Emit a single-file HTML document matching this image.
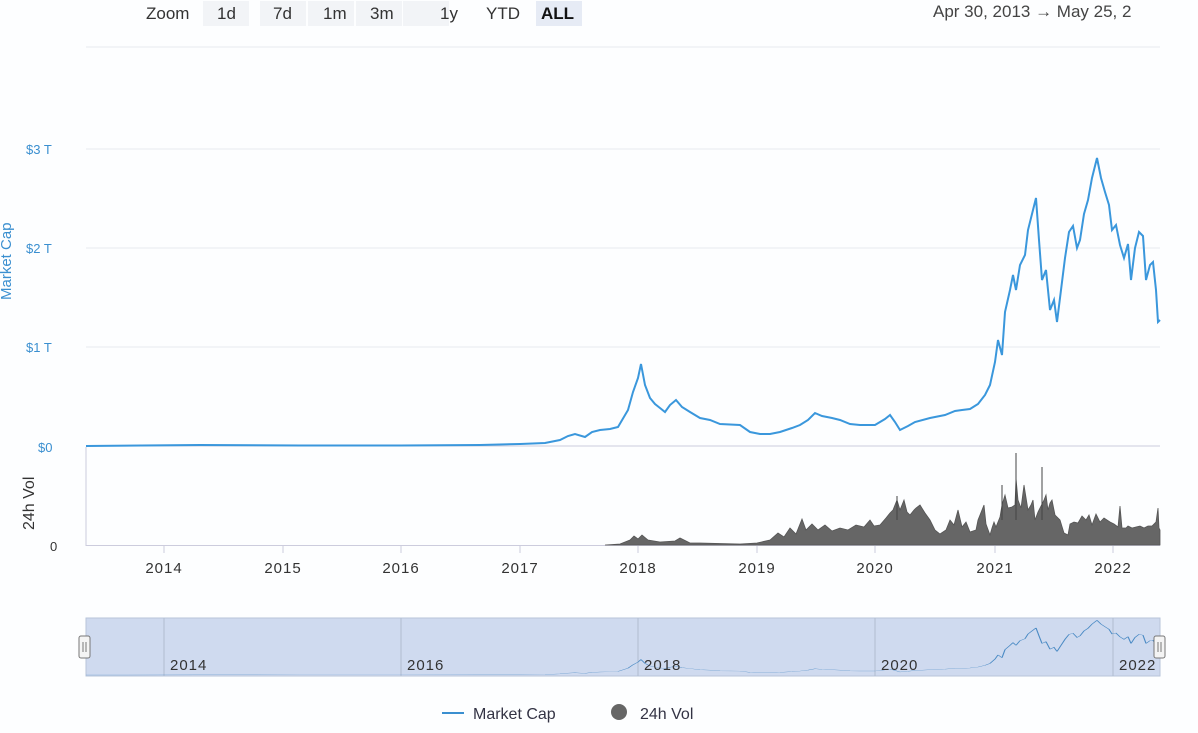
<!DOCTYPE html>
<html><head><meta charset="utf-8"><style>
body{margin:0;background:#fdfeff;width:1198px;height:728px;overflow:hidden;font-family:"Liberation Sans",sans-serif}
</style></head><body>
<svg width="1198" height="728" viewBox="0 0 1198 728" xmlns="http://www.w3.org/2000/svg" font-family="Liberation Sans, sans-serif">
<defs>
<polyline id="cap" fill="none" points="86,446 200,445 300,445.5 400,445.5 480,445 520,444 545,443 560,440 568,436 575,434 585,437 592,432 600,430 610,429 618,427 628,410 633,392 638,378 641,364 645,385 650,398 655,404 660,408 665,412 670,405 676,400 682,407 690,412 700,418 710,420 720,424 740,425 750,432 760,434 770,434 780,432 792,428 800,425 808,420 815,413 822,416 832,418 840,420 850,424 860,425 875,425 885,419 890,415 895,422 900,430 908,426 915,422 930,418 945,415 955,411 962,410 970,409 978,404 985,395 990,385 995,362 998,340 1002,355 1005,312 1010,290 1013,275 1016,290 1020,265 1025,255 1028,230 1033,210 1036,198 1039,240 1042,280 1046,270 1050,310 1054,300 1057,322 1061,290 1065,258 1069,232 1073,226 1077,248 1080,240 1084,214 1088,200 1092,178 1097,158 1101,178 1105,192 1109,205 1112,230 1116,225 1120,245 1124,258 1128,244 1131,280 1135,248 1139,232 1143,236 1146,280 1150,265 1153,262 1156,290 1158,322 1160,320"/>
</defs>
<!-- zoom buttons -->
<g font-size="17" fill="#333">
<text x="146" y="19">Zoom</text>
<rect x="203" y="1" width="46" height="25" fill="#f2f4f7"/><text x="217" y="19">1d</text>
<rect x="260" y="1" width="46" height="25" fill="#f2f4f7"/><text x="273" y="19">7d</text>
<rect x="308" y="1" width="46" height="25" fill="#f2f4f7"/><text x="323" y="19">1m</text>
<rect x="356" y="1" width="46" height="25" fill="#f2f4f7"/><text x="370" y="19">3m</text>
<rect x="403" y="1" width="46" height="25" fill="#f2f4f7"/><text x="440" y="19">1y</text>
<text x="486" y="19">YTD</text>
<rect x="536" y="1" width="46" height="25" fill="#e6ebf5"/><text x="541" y="19" font-weight="bold" fill="#111">ALL</text>
<text x="933" y="17" fill="#444">Apr 30, 2013  →  May 25, 2</text>
</g>
<!-- grid -->
<g stroke="#e6e9ef" stroke-width="1">
<line x1="86" y1="47" x2="1160" y2="47"/><line x1="86" y1="149" x2="1160" y2="149"/>
<line x1="86" y1="248" x2="1160" y2="248"/><line x1="86" y1="347" x2="1160" y2="347"/>
<line x1="86" y1="446" x2="1160" y2="446" stroke="#ccd"/>
</g>
<g font-size="13" fill="#3a8fd0"><text x="26" y="154">$3 T</text><text x="26" y="253">$2 T</text><text x="26" y="352">$1 T</text><text x="38" y="452">$0</text></g>
<text transform="translate(11,300) rotate(-90)" font-size="15" fill="#3a8fd0">Market Cap</text>
<text transform="translate(34,530) rotate(-90)" font-size="16" fill="#333">24h Vol</text>
<text x="50" y="551" font-size="13" fill="#333">0</text>
<line x1="86" y1="447" x2="86" y2="546" stroke="#ccd"/>
<line x1="86" y1="545.5" x2="1160" y2="545.5" stroke="#ccd"/>
<!-- volume -->
<polygon fill="#666" stroke="#555" stroke-width="0.8" points="605,545 620,544 630,540 634,536 638,539 642,535 648,540 660,542 675,541 680,538 690,543 700,543 740,544 757,543 770,540 778,533 784,537 790,528 796,534 802,519 806,530 812,524 818,530 825,525 832,531 840,528 848,530 856,525 864,527 870,520 874,526 880,525 886,518 890,513 893,510 897,500 900,510 902,505 904,500 907,512 910,515 914,510 916,508 920,505 925,513 930,520 935,530 940,534 946,530 950,520 954,525 958,510 962,527 966,522 970,532 976,530 978,520 980,515 984,505 986,524 990,535 992,528 994,522 996,527 1000,517 1002,505 1005,495 1008,508 1012,507 1015,505 1016,478 1018,500 1021,508 1024,485 1028,510 1031,505 1033,500 1035,520 1038,512 1040,508 1044,500 1046,495 1048,510 1050,503 1052,500 1055,515 1060,520 1064,533 1068,535 1070,524 1074,522 1078,523 1082,516 1086,520 1089,515 1092,525 1096,514 1100,522 1104,518 1110,522 1114,524 1118,527 1120,506 1122,528 1126,528 1128,526 1132,528 1136,527 1140,526 1144,528 1148,526 1152,526 1156,522 1158,508 1159,528 1160,530 1160,545"/>
<g stroke="#444" stroke-width="1"><line x1="1016" y1="520" x2="1016" y2="453"/><line x1="1042" y1="520" x2="1042" y2="467"/><line x1="1002" y1="520" x2="1002" y2="485"/><line x1="897" y1="520" x2="897" y2="496"/></g>
<!-- cap line -->
<use href="#cap" stroke="#3a97dc" stroke-width="2"/>
<!-- x axis -->
<g stroke="#ccd"><line x1="164" y1="546" x2="164" y2="553"/><line x1="283" y1="546" x2="283" y2="553"/><line x1="401" y1="546" x2="401" y2="553"/><line x1="520" y1="546" x2="520" y2="553"/><line x1="638" y1="546" x2="638" y2="553"/><line x1="757" y1="546" x2="757" y2="553"/><line x1="875" y1="546" x2="875" y2="553"/><line x1="995" y1="546" x2="995" y2="553"/><line x1="1113" y1="546" x2="1113" y2="553"/></g>
<g font-size="15" fill="#333" text-anchor="middle" letter-spacing="1"><text x="164" y="573">2014</text><text x="283" y="573">2015</text><text x="401" y="573">2016</text><text x="520" y="573">2017</text><text x="638" y="573">2018</text><text x="757" y="573">2019</text><text x="875" y="573">2020</text><text x="995" y="573">2021</text><text x="1113" y="573">2022</text></g>
<!-- navigator -->
<rect x="86" y="618" width="1074" height="58" fill="#cfdaef" stroke="#b8c4da"/>
<g stroke="#b0bccf"><line x1="164" y1="618" x2="164" y2="676"/><line x1="401" y1="618" x2="401" y2="676"/><line x1="638" y1="618" x2="638" y2="676"/><line x1="875" y1="618" x2="875" y2="676"/><line x1="1113" y1="618" x2="1113" y2="676"/></g>
<use href="#cap" stroke="#4a8ac4" stroke-width="1.2" transform="matrix(1,0,0,0.19,0,590.3)" style="vector-effect:non-scaling-stroke"/>
<g font-size="15" fill="#333" letter-spacing="1"><text x="170" y="670">2014</text><text x="407" y="670">2016</text><text x="644" y="670">2018</text><text x="881" y="670">2020</text><text x="1119" y="670">2022</text></g>
<rect x="79" y="636" width="11" height="22" rx="2" fill="#f4f4f4" stroke="#777"/><line x1="83" y1="642" x2="83" y2="652" stroke="#777"/><line x1="86" y1="642" x2="86" y2="652" stroke="#777"/>
<rect x="1154" y="636" width="11" height="22" rx="2" fill="#f4f4f4" stroke="#777"/><line x1="1158" y1="642" x2="1158" y2="652" stroke="#777"/><line x1="1161" y1="642" x2="1161" y2="652" stroke="#777"/>
<!-- legend -->
<line x1="442" y1="713" x2="464" y2="713" stroke="#3a8fd0" stroke-width="2"/>
<text x="473" y="719" font-size="16" fill="#334">Market Cap</text>
<circle cx="619" cy="712" r="8" fill="#666"/>
<text x="640" y="719" font-size="16" fill="#334">24h Vol</text>
</svg>
</body></html>
